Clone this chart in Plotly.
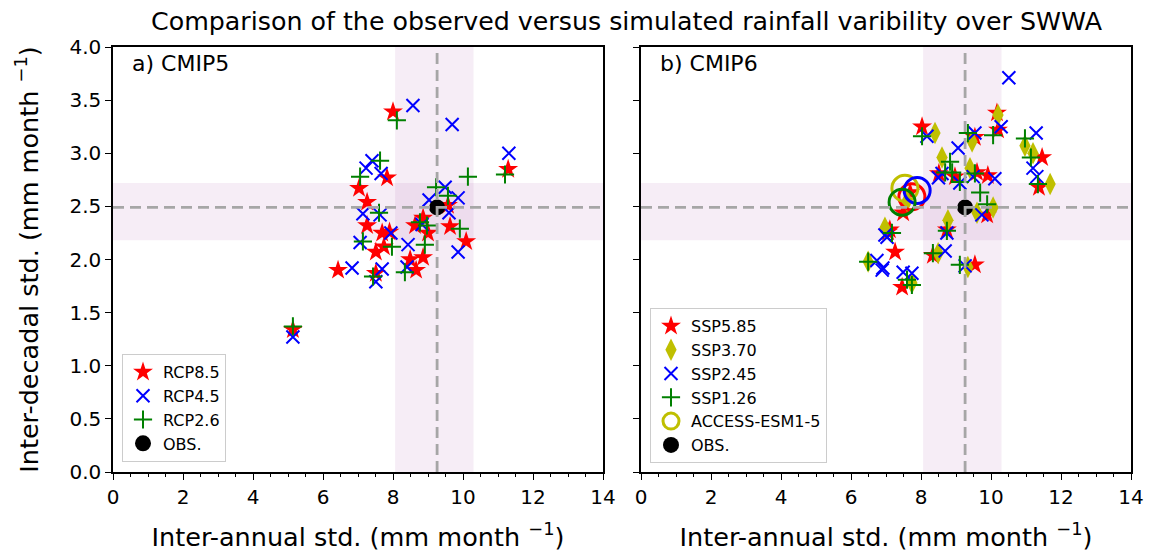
import plotly.graph_objects as go

# ---------------- data ----------------
obs_x = 9.26
obs_y = 2.49
band_x = [8.06, 10.3]
band_y = [2.18, 2.72]

rcp85_x = [8.0, 11.29, 7.03, 7.26, 7.83, 7.26, 7.69, 7.74, 7.51, 6.43, 7.51, 8.63, 8.86, 9.0, 8.86, 8.49, 8.66, 9.63, 10.09, 9.57, 7.9, 5.14]
rcp85_y = [3.39, 2.85, 2.67, 2.54, 2.77, 2.32, 2.25, 2.12, 2.07, 1.90, 1.87, 2.32, 2.39, 2.25, 2.02, 2.0, 1.90, 2.31, 2.17, 2.51, 2.26, 1.34]

rcp45_x = [8.57, 9.69, 11.31, 7.4, 7.23, 7.66, 9.49, 9.03, 9.86, 9.6, 7.14, 7.63, 7.94, 7.06, 8.43, 9.86, 6.83, 7.69, 7.51, 8.4, 8.83, 5.14]
rcp45_y = [3.45, 3.27, 3.0, 2.93, 2.86, 2.81, 2.68, 2.56, 2.58, 2.44, 2.43, 2.42, 2.25, 2.16, 2.14, 2.07, 1.92, 1.91, 1.79, 1.93, 2.33, 1.27]

rcp26_x = [8.11, 7.63, 7.06, 10.14, 11.2, 9.23, 9.57, 7.6, 8.77, 8.97, 9.91, 7.14, 7.97, 8.91, 7.43, 8.34, 5.14]
rcp26_y = [3.31, 2.93, 2.78, 2.78, 2.8, 2.68, 2.6, 2.44, 2.35, 2.32, 2.29, 2.17, 2.12, 2.14, 1.84, 1.88, 1.37]

ssp585_x = [8.03, 10.17, 10.2, 9.54, 11.46, 8.51, 8.97, 9.6, 9.91, 11.37, 7.49, 7.06, 7.26, 7.46, 8.34, 8.74, 9.54, 9.89, 7.11, 7.69]
ssp585_y = [3.25, 3.38, 3.22, 3.15, 2.96, 2.81, 2.78, 2.82, 2.79, 2.68, 2.44, 2.26, 2.07, 1.74, 2.04, 2.28, 1.95, 2.42, 2.28, 2.63]

ssp370_x = [8.4, 10.2, 9.46, 8.6, 9.4, 10.97, 11.2, 11.69, 10.06, 9.6, 8.77, 6.97, 8.49, 9.34, 7.74, 6.49, 7.6]
ssp370_y = [3.19, 3.36, 3.11, 2.96, 2.86, 3.07, 3.0, 2.71, 2.49, 2.44, 2.37, 2.3, 2.06, 1.93, 1.78, 1.98, 2.55]

ssp245_x = [10.51, 8.17, 9.54, 10.29, 11.29, 9.06, 11.2, 11.31, 8.6, 8.5, 9.49, 10.11, 9.11, 9.74, 8.74, 8.69, 9.26, 6.97, 6.91, 7.49, 7.74, 6.74, 6.89, 7.03]
ssp245_y = [3.71, 3.16, 3.19, 3.25, 3.19, 3.05, 2.86, 2.78, 2.81, 2.77, 2.78, 2.76, 2.72, 2.42, 2.25, 2.08, 1.94, 2.23, 1.92, 1.88, 1.87, 1.99, 1.9, 2.21]

ssp126_x = [8.03, 9.34, 10.06, 10.97, 11.14, 8.83, 8.89, 9.54, 9.11, 9.69, 9.89, 11.34, 8.74, 8.34, 9.11, 7.17, 7.74, 6.49, 7.6, 8.69]
ssp126_y = [3.16, 3.19, 3.17, 3.14, 2.96, 2.92, 2.82, 2.81, 2.73, 2.63, 2.52, 2.71, 2.27, 2.06, 1.95, 2.25, 1.76, 1.98, 1.81, 2.82]

# ACCESS-ESM1-5 for SSP5.85, SSP3.70, SSP2.45, SSP1.26
access_x = [7.74, 7.54, 7.89, 7.46]
access_y = [2.59, 2.67, 2.65, 2.54]

title_text = "Comparison of the observed versus simulated rainfall varibility over SWWA"
xlabel = "Inter-annual std. (mm month <sup>−1</sup>)"
ylabel = "Inter-decadal std. (mm month <sup>−1</sup>)"

# ---------------- styles ----------------
FONT = "DejaVu Sans"
RED, BLUE, GREEN, YEL = "#ff0000", "#0000ff", "#008000", "#bfbf00"
access_colors = [RED, YEL, BLUE, GREEN]

W, H = 1149, 552
def px(v): return v / W
def py(v): return 1 - v / H

fig = go.Figure()

def star(x, y, name, xa, ya, legend):
    return go.Scatter(x=x, y=y, mode="markers", name=name, xaxis=xa, yaxis=ya, legend=legend,
                      marker=dict(symbol="star", size=15, color=RED, line=dict(width=0)))

def cross(x, y, name, xa, ya, legend):
    return go.Scatter(x=x, y=y, mode="markers", name=name, xaxis=xa, yaxis=ya, legend=legend,
                      marker=dict(symbol="x-thin", size=13, color=BLUE, line=dict(width=2, color=BLUE)))

def plus(x, y, name, xa, ya, legend):
    return go.Scatter(x=x, y=y, mode="markers", name=name, xaxis=xa, yaxis=ya, legend=legend,
                      marker=dict(symbol="cross-thin", size=13, color=GREEN, line=dict(width=2, color=GREEN)))

def diam(x, y, name, xa, ya, legend):
    return go.Scatter(x=x, y=y, mode="markers", name=name, xaxis=xa, yaxis=ya, legend=legend,
                      marker=dict(symbol="diamond-tall", size=16, color=YEL, line=dict(width=0)))

def obs(xa, ya, legend):
    return go.Scatter(x=[obs_x], y=[obs_y], mode="markers", name="OBS.", xaxis=xa, yaxis=ya, legend=legend,
                      marker=dict(symbol="circle", size=16, color="black"))

# Left panel
fig.add_trace(star(rcp85_x, rcp85_y, "RCP8.5", "x", "y", "legend"))
fig.add_trace(cross(rcp45_x, rcp45_y, "RCP4.5", "x", "y", "legend"))
fig.add_trace(plus(rcp26_x, rcp26_y, "RCP2.6", "x", "y", "legend"))
fig.add_trace(obs("x", "y", "legend"))

# Right panel
fig.add_trace(star(ssp585_x, ssp585_y, "SSP5.85", "x2", "y2", "legend2"))
fig.add_trace(diam(ssp370_x, ssp370_y, "SSP3.70", "x2", "y2", "legend2"))
fig.add_trace(cross(ssp245_x, ssp245_y, "SSP2.45", "x2", "y2", "legend2"))
fig.add_trace(plus(ssp126_x, ssp126_y, "SSP1.26", "x2", "y2", "legend2"))
for i, (ax, ay) in enumerate(zip(access_x, access_y)):
    c = access_colors[i]
    fig.add_trace(go.Scatter(x=[ax], y=[ay], mode="markers", name="ACCESS-ESM1-5",
                             xaxis="x2", yaxis="y2", legend="legend2",
                             showlegend=(c == YEL), legendrank=1001 if c == YEL else 1000,
                             marker=dict(symbol="circle-open", size=26, color=c, line=dict(width=3, color=c))))
fig.add_trace(obs("x2", "y2", "legend2"))
fig.data[-1].legendrank = 1002

# bands and dashed lines
DASH = "11px,6px"
shapes = []
for xr, yr in (("x", "y"), ("x2", "y2")):
    shapes.append(dict(type="rect", xref=xr, yref=f"{yr} domain", x0=band_x[0], x1=band_x[1], y0=0, y1=1,
                       fillcolor="rgba(128,0,128,0.07)", line=dict(width=0), layer="below"))
    shapes.append(dict(type="rect", xref=f"{xr} domain", yref=yr, x0=0, x1=1, y0=band_y[0], y1=band_y[1],
                       fillcolor="rgba(128,0,128,0.07)", line=dict(width=0), layer="below"))
    shapes.append(dict(type="line", xref=xr, yref=f"{yr} domain", x0=obs_x, x1=obs_x, y0=0, y1=1,
                       line=dict(color="#a6a6a6", width=2.8, dash=DASH), layer="above"))
    shapes.append(dict(type="line", xref=f"{xr} domain", yref=yr, x0=0, x1=1, y0=obs_y, y1=obs_y,
                       line=dict(color="#a6a6a6", width=2.8, dash=DASH), layer="above"))

axis_common = dict(showline=True, linecolor="black", linewidth=1.5, mirror=True, ticks="outside",
                   ticklen=6, tickwidth=1.3, tickcolor="black", showgrid=False, zeroline=False,
                   automargin=False,
                   tickfont=dict(family=FONT, size=20, color="black"))
xcommon = dict(axis_common, range=[0, 14], dtick=2, tick0=0,
               minor=dict(ticks="outside", dtick=0.5, ticklen=3.5, tickwidth=1, tickcolor="black"),
               title=dict(text=xlabel, font=dict(family=FONT, size=25.5, color="black"), standoff=22))
ycommon = dict(axis_common, range=[0, 4], dtick=0.5, tick0=0, tickformat=".1f")

ydom = [py(472), py(47)]
fig.update_layout(
    width=W, height=H, margin=dict(l=0, r=0, t=0, b=0, autoexpand=False),
    paper_bgcolor="white", plot_bgcolor="white",
    xaxis=dict(xcommon, domain=[px(113), px(603)], anchor="y"),
    xaxis2=dict(xcommon, domain=[px(641), px(1131)], anchor="y2"),
    yaxis=dict(ycommon, domain=ydom, anchor="x",
               title=dict(text=ylabel, font=dict(family=FONT, size=25.5, color="black"), standoff=24)),
    yaxis2=dict(ycommon, domain=ydom, anchor="x2", showticklabels=False, matches="y"),
    shapes=shapes,
    showlegend=True,
    legend=dict(x=px(122), y=py(462), xanchor="left", yanchor="bottom",
                bgcolor="rgba(255,255,255,0.85)", bordercolor="#cccccc", borderwidth=1,
                font=dict(family=FONT, size=16, color="black"), tracegroupgap=0, itemsizing="trace"),
    legend2=dict(x=px(650), y=py(463), xanchor="left", yanchor="bottom",
                 bgcolor="rgba(255,255,255,0.85)", bordercolor="#cccccc", borderwidth=1,
                 font=dict(family=FONT, size=16, color="black"), tracegroupgap=0, itemsizing="trace"),
    annotations=[
        dict(text=title_text, x=px(627), y=py(22), xref="paper", yref="paper", showarrow=False,
             xanchor="center", yanchor="middle", font=dict(family=FONT, size=25.3, color="black")),
        dict(text="a) CMIP5", x=px(130), y=py(64), xref="paper", yref="paper", showarrow=False,
             xanchor="left", yanchor="middle", font=dict(family=FONT, size=22, color="black")),
        dict(text="b) CMIP6", x=px(658), y=py(64), xref="paper", yref="paper", showarrow=False,
             xanchor="left", yanchor="middle", font=dict(family=FONT, size=22, color="black")),
    ],
)

fig.write_html("out.html")
